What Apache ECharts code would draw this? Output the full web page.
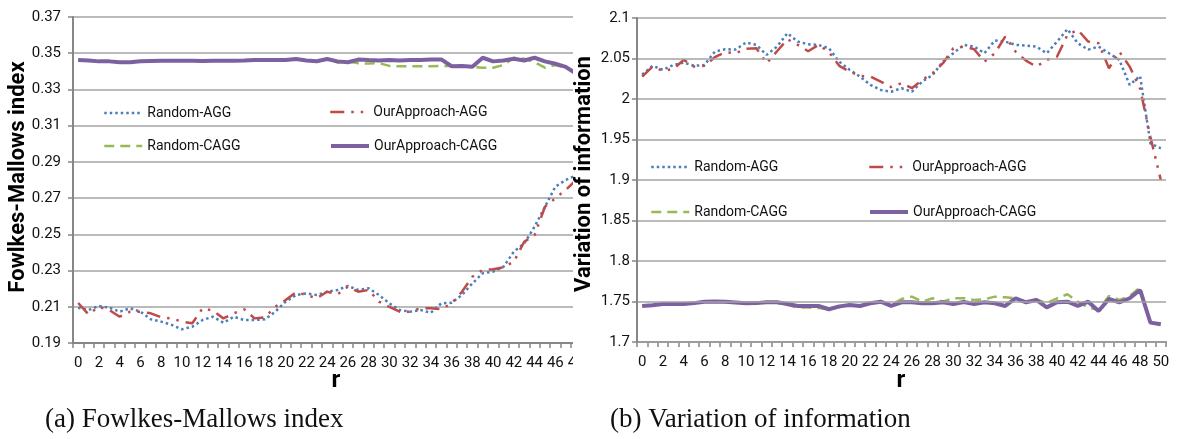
<!DOCTYPE html>
<html>
<head>
<meta charset="utf-8">
<script src="https://cdn.jsdelivr.net/npm/echarts@6/dist/echarts.min.js"></script>
<style>
  html, body { margin: 0; padding: 0; background: #fff; }
  #main { width: 1181px; height: 439px; }
</style>
</head>
<body>
<div id="main"></div>
<script>
// r values (x axis categories)
var rCats = ['0','1','2','3','4','5','6','7','8','9','10','11','12','13','14','15','16','17','18','19','20',
    '21','22','23','24','25','26','27','28','29','30','31','32','33','34','35','36','37','38','39','40',
    '41','42','43','44','45','46','47','48','49','50'];

// (a) Fowlkes-Mallows index
var fmRandomAgg = [0.2095, 0.2082, 0.2104, 0.2095, 0.2073, 0.2092, 0.2073, 0.2031, 0.2018, 0.2000,
    0.1976, 0.1990, 0.2027, 0.2045, 0.2012, 0.2045, 0.2027, 0.2027, 0.2031, 0.2073,
    0.2128, 0.2165, 0.2174, 0.2165, 0.2183, 0.2193, 0.2215, 0.2193, 0.2202, 0.2165,
    0.2119, 0.2082, 0.2073, 0.2082, 0.2067, 0.2119, 0.2122, 0.2165, 0.2229, 0.2285,
    0.2294, 0.2321, 0.2404, 0.2450, 0.2542, 0.2652, 0.2763, 0.2800, 0.2825];
var fmOurAgg = [0.2121, 0.2058, 0.2100, 0.2082, 0.2045, 0.2073, 0.2073, 0.2064, 0.2042, 0.2036,
    0.2018, 0.2009, 0.2092, 0.2078, 0.2036, 0.2064, 0.2086, 0.2036, 0.2042, 0.2100,
    0.2137, 0.2180, 0.2165, 0.2147, 0.2183, 0.2169, 0.2211, 0.2183, 0.2193, 0.2128,
    0.2100, 0.2073, 0.2073, 0.2092, 0.2092, 0.2086, 0.2119, 0.2183, 0.2266, 0.2303,
    0.2307, 0.2318, 0.2349, 0.2459, 0.2496, 0.2652, 0.2699, 0.2745, 0.2800];
var fmRandomCagg = [0.3463, 0.3460, 0.3455, 0.3455, 0.3450, 0.3450, 0.3456, 0.3457, 0.3458, 0.3458,
    0.3458, 0.3458, 0.3457, 0.3458, 0.3458, 0.3459, 0.3460, 0.3462, 0.3463, 0.3462,
    0.3462, 0.3468, 0.3460, 0.3456, 0.3468, 0.3448, 0.3455, 0.3445, 0.3443, 0.3445,
    0.3430, 0.3428, 0.3428, 0.3428, 0.3428, 0.3430, 0.3430, 0.3430, 0.3425, 0.3420,
    0.3420, 0.3435, 0.3475, 0.3470, 0.3450, 0.3420, 0.3435, 0.3420, 0.3388];
var fmOurCagg = [0.3463, 0.3460, 0.3455, 0.3455, 0.3450, 0.3450, 0.3456, 0.3457, 0.3458, 0.3458,
    0.3458, 0.3458, 0.3457, 0.3458, 0.3458, 0.3459, 0.3460, 0.3462, 0.3463, 0.3462,
    0.3462, 0.3468, 0.3460, 0.3456, 0.3468, 0.3455, 0.3450, 0.3465, 0.3462, 0.3460,
    0.3462, 0.3460, 0.3462, 0.3462, 0.3465, 0.3466, 0.3428, 0.3430, 0.3425, 0.3475,
    0.3455, 0.3460, 0.3470, 0.3460, 0.3475, 0.3455, 0.3442, 0.3425, 0.3388];

// (b) Variation of information
var viRandomAgg = [2.0300, 2.0410, 2.0360, 2.0420, 2.0450, 2.0410, 2.0420, 2.0585, 2.0615, 2.0610,
    2.0697, 2.0668, 2.0545, 2.0647, 2.0813, 2.0709, 2.0676, 2.0668, 2.0627, 2.0460,
    2.0360, 2.0277, 2.0174, 2.0112, 2.0090, 2.0133, 2.0090, 2.0215, 2.0297, 2.0462,
    2.0565, 2.0668, 2.0647, 2.0565, 2.0722, 2.0709, 2.0668, 2.0660, 2.0647, 2.0565,
    2.0709, 2.0862, 2.0688, 2.0610, 2.0647, 2.0565, 2.0483, 2.0174, 2.0285, 1.9450, 1.9390];
var viOurAgg = [2.0277, 2.0400, 2.0347, 2.0370, 2.0483, 2.0400, 2.0410, 2.0516, 2.0578, 2.0565,
    2.0619, 2.0627, 2.0442, 2.0590, 2.0738, 2.0668, 2.0590, 2.0668, 2.0580, 2.0409,
    2.0338, 2.0285, 2.0277, 2.0215, 2.0146, 2.0195, 2.0133, 2.0236, 2.0318, 2.0442,
    2.0627, 2.0647, 2.0615, 2.0462, 2.0565, 2.0771, 2.0585, 2.0474, 2.0400, 2.0483,
    2.0524, 2.0791, 2.0853, 2.0709, 2.0688, 2.0380, 2.0585, 2.0400, 2.0130, 1.9530, 1.9000];
var viRandomCagg = [1.7445, 1.7455, 1.7470, 1.7470, 1.7475, 1.7480, 1.7495, 1.7500, 1.7495, 1.7490,
    1.7480, 1.7485, 1.7485, 1.7485, 1.7460, 1.7425, 1.7425, 1.7420, 1.7400, 1.7430,
    1.7450, 1.7450, 1.7480, 1.7498, 1.7457, 1.7531, 1.7560, 1.7498, 1.7540, 1.7498,
    1.7540, 1.7540, 1.7519, 1.7527, 1.7560, 1.7552, 1.7540, 1.7498, 1.7527, 1.7478,
    1.7540, 1.7589, 1.7498, 1.7424, 1.7396, 1.7568, 1.7519, 1.7568, 1.7675, 1.7239, 1.7210];
var viOurCagg = [1.7445, 1.7455, 1.7470, 1.7470, 1.7470, 1.7480, 1.7498, 1.7500, 1.7498, 1.7488,
    1.7478, 1.7480, 1.7490, 1.7490, 1.7470, 1.7445, 1.7445, 1.7445, 1.7404, 1.7440,
    1.7457, 1.7445, 1.7478, 1.7498, 1.7445, 1.7490, 1.7490, 1.7478, 1.7478, 1.7490,
    1.7470, 1.7494, 1.7470, 1.7490, 1.7478, 1.7445, 1.7540, 1.7490, 1.7519, 1.7428,
    1.7490, 1.7498, 1.7445, 1.7498, 1.7383, 1.7531, 1.7490, 1.7540, 1.7642, 1.7239, 1.7218];

var BLUE = '#4A7EBB', RED = '#BE4B48', GREEN = '#98B954', PURPLE = '#7D60A0';
var AXIS_C = '#878787', GRID_C = '#a3a3a3';
var FONT = 'Roboto';

function xAxisOf(gridIndex) {
    return {
        type: 'category',
        gridIndex: gridIndex,
        data: rCats,
        boundaryGap: true,
        axisLine: { lineStyle: { color: AXIS_C, width: 2 } },
        axisTick: { show: true, interval: 0, length: 5, lineStyle: { color: AXIS_C, width: 1.5 } },
        axisLabel: { interval: 1, margin: 13, fontFamily: FONT, fontSize: 15, color: '#111' },
        splitLine: { show: false }
    };
}

function seriesOf(name, data, idx, color, width, type) {
    return {
        name: name,
        type: 'line',
        xAxisIndex: idx,
        yAxisIndex: idx,
        data: data,
        symbol: 'none',
        smooth: false,
        lineStyle: { color: color, width: width, type: type },
        itemStyle: { color: color }
    };
}

function legendOf(name, left, top, width) {
    return {
        data: [name],
        left: left,
        top: top,
        padding: 0,
        itemWidth: 38,
        itemHeight: 14,
        selectedMode: false,
        itemStyle: { opacity: 0 },
        lineStyle: { width: width },
        textStyle: { fontFamily: FONT, fontSize: 14, color: '#111' }
    };
}

var dotted = [2.5, 3];
var dashDot = [14, 7, 2.5, 7, 2.5, 7];
var dashed = [10, 6];

var chart = echarts.init(document.getElementById('main'));
var option = {
    animation: false,
    backgroundColor: '#fff',
    grid: [
        { left: 73, top: 17, width: 529, height: 326 },
        { left: 637, top: 18, width: 529, height: 324 }
    ],
    xAxis: [xAxisOf(0), xAxisOf(1)],
    yAxis: [
        {
            type: 'value', gridIndex: 0, min: 0.19, max: 0.37, interval: 0.02,
            axisLine: { show: true, lineStyle: { color: AXIS_C, width: 2 } },
            axisTick: { show: true, length: 5, lineStyle: { color: AXIS_C, width: 1.5 } },
            axisLabel: { margin: 12, fontFamily: FONT, fontSize: 15, color: '#111',
                formatter: function (v) { return v.toFixed(2); } },
            splitLine: { lineStyle: { color: GRID_C, width: 1.5 } }
        },
        {
            type: 'value', gridIndex: 1, min: 1.7, max: 2.1, interval: 0.05, z: 10,
            axisLine: { show: true, lineStyle: { color: AXIS_C, width: 2 } },
            axisTick: { show: true, length: 5, lineStyle: { color: AXIS_C, width: 1.5 } },
            axisLabel: { margin: 7, fontFamily: FONT, fontSize: 15, color: '#111' },
            splitLine: { lineStyle: { color: GRID_C, width: 1.5 } }
        }
    ],
    legend: [
        legendOf('Random-AGG', 103, 106, 2.5),
        legendOf('OurApproach-AGG', 329, 105, 2.5),
        legendOf('Random-CAGG', 103, 139, 2.5),
        legendOf('OurApproach-CAGG', 329, 139, 4),
        legendOf('Random-AGG', 650, 160, 2.5),
        legendOf('OurApproach-AGG', 868, 160, 2.5),
        legendOf('Random-CAGG', 650, 205, 2.5),
        legendOf('OurApproach-CAGG', 868, 205, 4)
    ],
    series: [
        seriesOf('Random-AGG', fmRandomAgg, 0, BLUE, 2.5, dotted),
        seriesOf('OurApproach-AGG', fmOurAgg, 0, RED, 2.5, dashDot),
        seriesOf('Random-CAGG', fmRandomCagg, 0, GREEN, 2.5, dashed),
        seriesOf('OurApproach-CAGG', fmOurCagg, 0, PURPLE, 4, 'solid'),
        seriesOf('Random-AGG', viRandomAgg, 1, BLUE, 2.5, dotted),
        seriesOf('OurApproach-AGG', viOurAgg, 1, RED, 2.5, dashDot),
        seriesOf('Random-CAGG', viRandomCagg, 1, GREEN, 2.5, dashed),
        seriesOf('OurApproach-CAGG', viOurCagg, 1, PURPLE, 4, 'solid')
    ],
    graphic: [
        // the left figure is cropped on the right in the original
        { type: 'rect', z: 5, shape: { x: 573, y: 0, width: 33, height: 380 }, style: { fill: '#fff' } },
        { type: 'text', z: 10, x: 18, y: 177, rotation: Math.PI / 2,
          style: { text: 'Fowlkes-Mallows index', font: 'bold 22px Roboto', fill: '#000',
                   textAlign: 'center', textVerticalAlign: 'middle' } },
        { type: 'text', z: 10, x: 584, y: 174, rotation: Math.PI / 2,
          style: { text: 'Variation of information', font: 'bold 22px Roboto', fill: '#000',
                   textAlign: 'center', textVerticalAlign: 'middle' } },
        { type: 'text', z: 10, x: 336, y: 381,
          style: { text: 'r', font: 'bold 24px Roboto', fill: '#000',
                   textAlign: 'center', textVerticalAlign: 'middle' } },
        { type: 'text', z: 10, x: 901, y: 381,
          style: { text: 'r', font: 'bold 24px Roboto', fill: '#000',
                   textAlign: 'center', textVerticalAlign: 'middle' } },
        { type: 'text', z: 10, x: 45, y: 420,
          style: { text: '(a) Fowlkes-Mallows index', font: '27px "Liberation Serif"', fill: '#111',
                   textAlign: 'left', textVerticalAlign: 'middle' } },
        { type: 'text', z: 10, x: 610, y: 420,
          style: { text: '(b) Variation of information', font: '27px "Liberation Serif"', fill: '#111',
                   textAlign: 'left', textVerticalAlign: 'middle' } }
    ]
};
chart.setOption(option);
</script>
</body>
</html>
